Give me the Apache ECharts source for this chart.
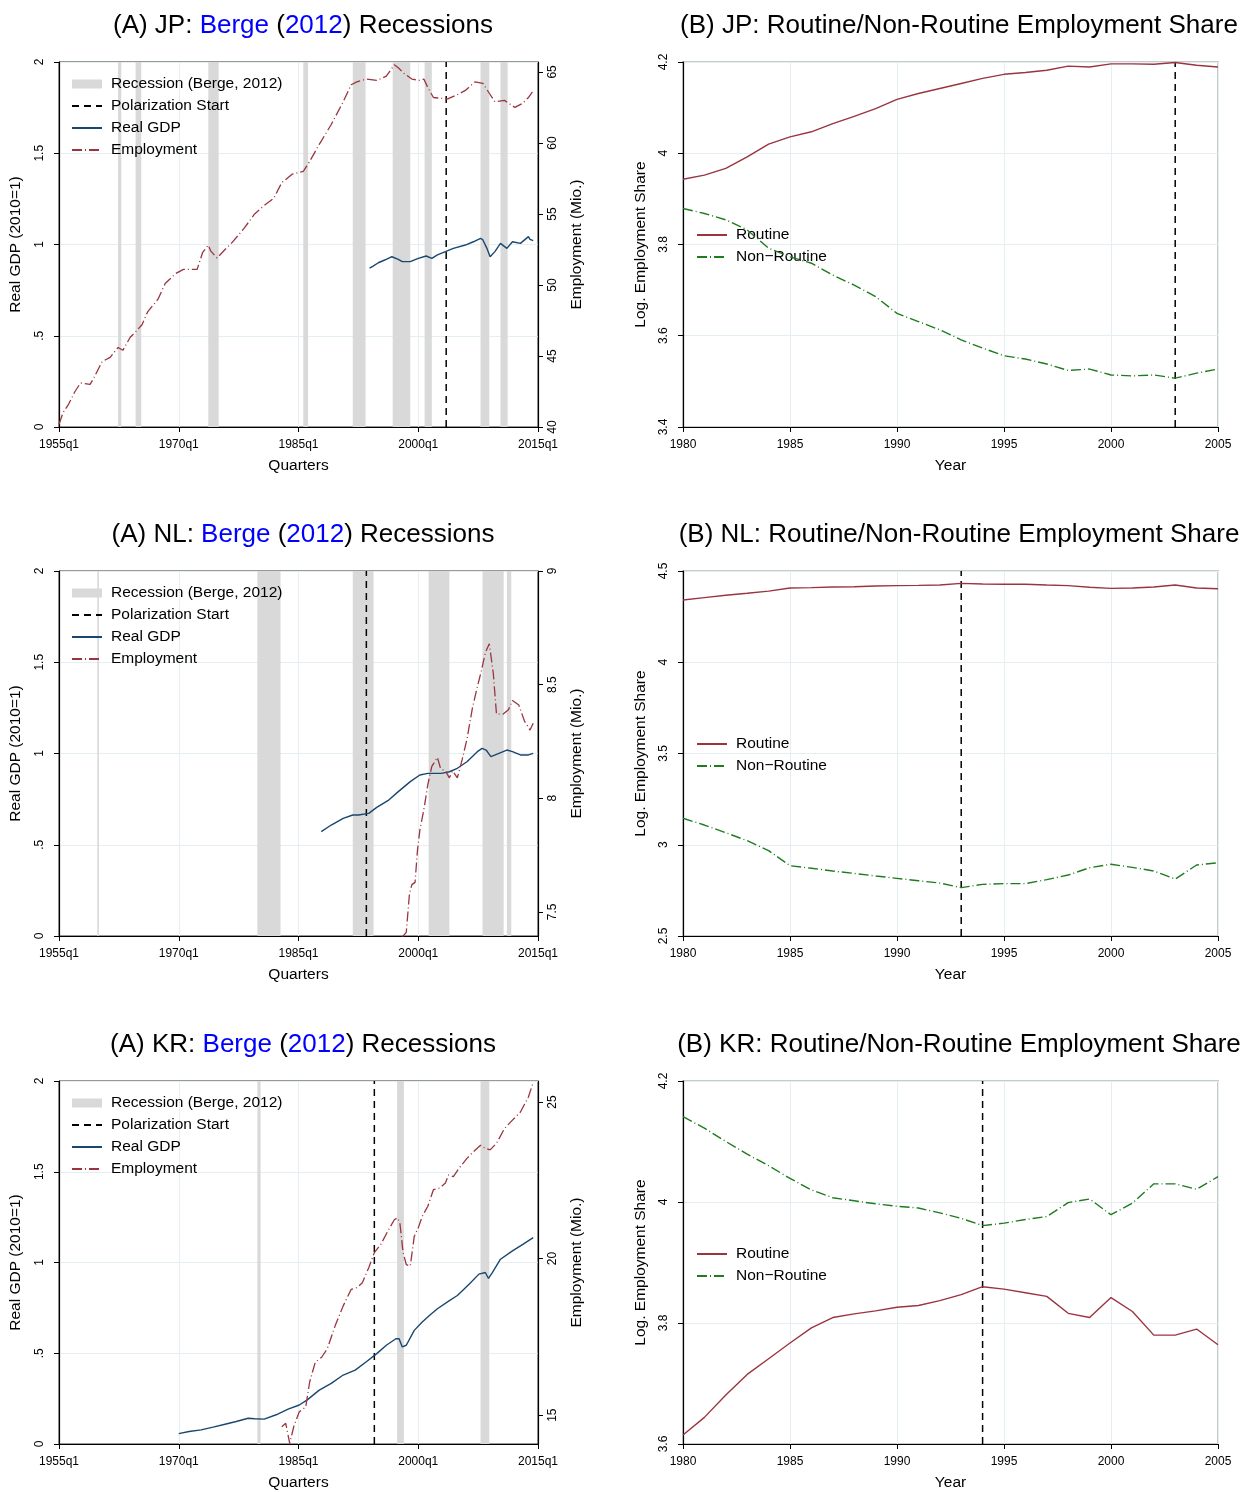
<!DOCTYPE html>
<html>
<head>
<meta charset="utf-8">
<script src="https://cdn.jsdelivr.net/npm/echarts@6/dist/echarts.min.js"></script>
<style>
html, body { margin: 0; padding: 0; background: #fff; }
#chart { width: 1242px; height: 1492px; }
</style>
</head>
<body>
<div id="chart"></div>
<script>
// ---- quarterly panels (A): [year, value] ----
var jpEmployment = [[1955.0,40.2],[1955.5,41.0],[1956.2,41.6],[1957.0,42.5],[1957.7,43.1],[1958.9,43.0],[1959.4,43.5],[1960.4,44.6],[1961.4,44.9],[1962.4,45.6],[1963.0,45.4],[1963.9,46.3],[1964.6,46.7],[1965.4,47.2],[1966.1,48.1],[1967.4,49.0],[1968.3,50.1],[1969.6,50.8],[1970.6,51.1],[1972.3,51.1],[1973.0,52.3],[1973.7,52.8],[1974.0,52.4],[1974.8,51.9],[1975.8,52.5],[1976.7,53.0],[1978.2,54.0],[1979.5,55.0],[1980.7,55.6],[1981.9,56.1],[1982.9,57.2],[1984.2,57.8],[1985.6,58.0],[1986.4,58.7],[1987.6,59.9],[1989.1,61.3],[1990.6,62.9],[1991.6,64.1],[1992.3,64.3],[1993.5,64.5],[1994.8,64.4],[1996.0,64.7],[1997.0,65.5],[1997.5,65.3],[1998.2,64.9],[1999.2,64.5],[2000.2,64.4],[2000.7,64.5],[2001.2,63.9],[2001.9,63.2],[2003.7,63.1],[2004.9,63.4],[2005.9,63.7],[2007.1,64.3],[2008.1,64.2],[2008.9,63.5],[2009.6,62.9],[2010.8,63.0],[2012.1,62.5],[2013.1,62.8],[2013.8,63.2],[2014.3,63.6]];
var jpGdp = [[1993.9,0.87],[1994.3,0.88],[1995.0,0.90],[1995.8,0.915],[1996.7,0.933],[1997.5,0.919],[1998.0,0.906],[1999.0,0.906],[2000.0,0.924],[2001.0,0.937],[2001.7,0.924],[2002.4,0.943],[2003.4,0.961],[2004.4,0.979],[2005.9,0.997],[2006.9,1.015],[2007.8,1.034],[2008.1,1.025],[2008.6,0.979],[2009.0,0.933],[2009.6,0.961],[2010.3,1.006],[2011.1,0.979],[2011.8,1.015],[2012.8,1.006],[2013.8,1.043],[2014.0,1.028],[2014.4,1.021]];
var jpRecessions = [[1962.4,1962.8],[1964.6,1965.3],[1973.7,1975.0],[1985.6,1986.2],[1991.8,1993.4],[1996.8,1999.0],[2000.8,2001.7],[2007.8,2008.9],[2010.3,2011.2]];
var jpPolarQuarter = 2003.5;

var nlGdp = [[1987.85,0.572],[1989.1,0.608],[1990.6,0.645],[1991.8,0.663],[1992.5,0.663],[1993.8,0.672],[1994.8,0.705],[1996.3,0.745],[1997.5,0.791],[1999.0,0.846],[2000.2,0.882],[2001.2,0.891],[2002.9,0.891],[2003.9,0.900],[2004.9,0.919],[2006.1,0.955],[2007.4,1.010],[2008.0,1.028],[2008.5,1.019],[2009.1,0.983],[2010.1,1.001],[2011.1,1.019],[2011.8,1.010],[2012.8,0.992],[2013.8,0.992],[2014.4,1.001]];
var nlEmployment = [[1998.0,7.39],[1998.5,7.41],[1998.9,7.58],[1999.2,7.62],[1999.6,7.63],[1999.9,7.77],[2000.2,7.86],[2000.7,7.95],[2001.2,8.06],[2001.7,8.14],[2002.4,8.18],[2002.8,8.13],[2003.4,8.12],[2003.9,8.09],[2004.3,8.12],[2004.9,8.09],[2005.5,8.17],[2006.1,8.26],[2006.8,8.40],[2007.4,8.49],[2007.9,8.56],[2008.4,8.64],[2008.9,8.68],[2009.4,8.55],[2009.8,8.37],[2010.6,8.37],[2011.3,8.39],[2011.8,8.43],[2012.6,8.41],[2013.3,8.34],[2014.0,8.30],[2014.4,8.33]];
var nlRecessions = [[1959.8,1960.0],[1979.85,1982.75],[1991.8,1994.4],[2001.3,2003.9],[2008.05,2010.7],[2011.1,2011.65]];
var nlPolarQuarter = 1993.5;

var krGdp = [[1970.0,0.057],[1971.3,0.069],[1972.8,0.078],[1974.3,0.093],[1975.8,0.109],[1977.2,0.124],[1978.7,0.142],[1979.5,0.139],[1980.7,0.137],[1982.2,0.161],[1983.7,0.192],[1985.1,0.215],[1986.1,0.243],[1987.6,0.297],[1989.1,0.334],[1990.6,0.380],[1992.1,0.407],[1993.5,0.453],[1994.8,0.498],[1996.0,0.544],[1997.2,0.580],[1997.6,0.580],[1998.0,0.535],[1998.5,0.544],[1999.5,0.626],[2000.5,0.672],[2001.4,0.708],[2002.4,0.745],[2003.9,0.790],[2004.9,0.818],[2006.4,0.881],[2007.6,0.936],[2008.4,0.945],[2008.8,0.912],[2009.3,0.945],[2010.3,1.018],[2011.8,1.064],[2013.1,1.100],[2014.4,1.137]];
var krEmployment = [[1982.9,14.63],[1983.4,14.74],[1983.9,14.10],[1984.4,14.63],[1985.1,15.11],[1985.9,15.26],[1986.4,16.06],[1987.1,16.69],[1987.9,16.85],[1988.6,17.12],[1989.6,17.86],[1990.6,18.49],[1991.6,19.02],[1992.3,19.07],[1993.0,19.23],[1993.8,19.71],[1994.5,20.19],[1995.3,20.45],[1996.3,20.93],[1997.0,21.24],[1997.4,21.30],[1997.7,21.14],[1998.1,20.19],[1998.5,19.81],[1999.0,19.76],[1999.5,20.71],[2000.0,20.98],[2000.5,21.35],[2001.2,21.67],[2001.9,22.20],[2002.7,22.25],[2003.4,22.41],[2003.8,22.67],[2004.4,22.62],[2005.1,22.88],[2006.1,23.20],[2006.9,23.41],[2007.8,23.62],[2008.4,23.52],[2009.0,23.47],[2009.8,23.68],[2010.8,24.15],[2011.8,24.42],[2012.8,24.68],[2013.8,25.16],[2014.4,25.63]];
var krRecessions = [[1979.85,1980.25],[1997.35,1998.2],[2007.8,2008.9]];
var krPolarQuarter = 1994.5;

var quarterTicks = [1955, 1970, 1985, 2000, 2015];
var jpEmpTicks = [40, 45, 50, 55, 60, 65];
var nlEmpTicks = [7.5, 8, 8.5, 9];
var krEmpTicks = [15, 20, 25];

// ---- yearly panels (B) ----
var years = [1980,1981,1982,1983,1984,1985,1986,1987,1988,1989,1990,1991,1992,1993,1994,1995,1996,1997,1998,1999,2000,2001,2002,2003,2004,2005];
var jpRoutine = [3.943,3.952,3.967,3.992,4.020,4.036,4.047,4.065,4.081,4.098,4.118,4.131,4.142,4.153,4.164,4.173,4.177,4.182,4.191,4.189,4.196,4.196,4.195,4.199,4.193,4.189];
var jpNonRoutine = [3.879,3.868,3.854,3.832,3.792,3.773,3.759,3.733,3.711,3.686,3.649,3.631,3.613,3.591,3.573,3.556,3.549,3.538,3.524,3.527,3.514,3.512,3.514,3.507,3.518,3.527];
var nlRoutine = [4.341,4.354,4.367,4.378,4.390,4.407,4.409,4.412,4.414,4.418,4.420,4.421,4.423,4.432,4.429,4.427,4.427,4.423,4.420,4.411,4.405,4.407,4.412,4.423,4.407,4.403];
var nlNonRoutine = [3.145,3.108,3.066,3.022,2.968,2.885,2.871,2.856,2.843,2.829,2.816,2.803,2.790,2.765,2.783,2.787,2.787,2.809,2.834,2.874,2.893,2.876,2.856,2.812,2.889,2.901];
var krRoutine = [3.615,3.644,3.681,3.715,3.741,3.767,3.792,3.809,3.815,3.820,3.826,3.829,3.837,3.847,3.860,3.856,3.850,3.844,3.816,3.809,3.842,3.819,3.780,3.780,3.790,3.764];
var krNonRoutine = [4.141,4.122,4.100,4.079,4.060,4.039,4.020,4.007,4.002,3.997,3.993,3.990,3.982,3.973,3.961,3.965,3.971,3.976,3.999,4.005,3.979,3.998,4.030,4.030,4.021,4.042];
var jpPolarYear = 2003, nlPolarYear = 1993, krPolarYear = 1994;

var FONT = '"Liberation Sans", Arial, Helvetica, sans-serif';
var RED = '#9a3540', NAVY = '#1a476f', GREEN = '#1e7b1e', BAND = '#d9d9d9', GRIDC = '#e5eef0';
var EMP_DASH = [10, 3, 1, 3], POL_DASH = [7, 5];

var chart = echarts.init(document.getElementById('chart'));

var rowTops = [62, 571, 1081];
var PH = 365;
var grids = [], xAxes = [], yAxes = [], series = [], legends = [], titles = [];

function tickLabelStyle() {
    return { color: '#000', fontSize: 12, fontFamily: FONT };
}

function pair(xs, ys) {
    return xs.map(function (x, i) { return [x, ys[i]]; });
}

// legend entry for a line series: hide the marker, keep the dashed line
function lineEntry(name) {
    return { name: name, itemStyle: { opacity: 0 } };
}

var legendText = { color: '#000', fontSize: 15.5, fontFamily: FONT, lineHeight: 16, padding: [0, 0, 0, 4] };

function addPanelA(row, code, gdp, emp, recessions, polar, empMin, empMax, empTicks) {
    var top = rowTops[row];
    var gi = grids.length;
    grids.push({ left: 59, top: top, width: 479, height: PH, show: true, borderColor: '#333', borderWidth: 1, backgroundColor: 'transparent' });
    var xi = xAxes.length;
    xAxes.push({
        type: 'value', gridIndex: gi, min: 1955, max: 2015,
        name: 'Quarters', nameLocation: 'middle', nameGap: 31,
        nameTextStyle: { color: '#000', fontSize: 15.5, fontFamily: FONT },
        axisLine: { lineStyle: { color: '#000', width: 1.2 } },
        axisTick: { show: true, length: 5, lineStyle: { color: '#000' }, customValues: quarterTicks },
        axisLabel: Object.assign(tickLabelStyle(), { margin: 12, customValues: quarterTicks, formatter: function (v) { return v + 'q1'; } }),
        splitLine: { show: true, lineStyle: { color: GRIDC, width: 1 } }
    });
    var yl = yAxes.length;
    yAxes.push({
        type: 'value', gridIndex: gi, min: 0, max: 2, interval: 0.5, position: 'left',
        name: 'Real GDP (2010=1)', nameLocation: 'middle', nameGap: 35,
        nameTextStyle: { color: '#000', fontSize: 15.5, fontFamily: FONT },
        axisLine: { show: true, lineStyle: { color: '#000', width: 1.2 } },
        axisTick: { show: true, length: 5, lineStyle: { color: '#000' } },
        axisLabel: Object.assign(tickLabelStyle(), { rotate: 90, margin: 13, formatter: function (v) { return v === 0.5 ? '.5' : String(v); } }),
        splitLine: { show: true, lineStyle: { color: GRIDC, width: 1 } }
    });
    var yr = yAxes.length;
    yAxes.push({
        type: 'value', gridIndex: gi, min: empMin, max: empMax, position: 'right',
        name: 'Employment (Mio.)', nameLocation: 'middle', nameGap: 31,
        nameTextStyle: { color: '#000', fontSize: 15.5, fontFamily: FONT },
        axisLine: { show: true, lineStyle: { color: '#000', width: 1.2 } },
        axisTick: { show: true, length: 5, lineStyle: { color: '#000' }, customValues: empTicks },
        axisLabel: Object.assign(tickLabelStyle(), { rotate: 90, margin: 9, customValues: empTicks }),
        splitLine: { show: false }
    });
    series.push({
        name: 'Recession (Berge, 2012)', type: 'custom', xAxisIndex: xi, yAxisIndex: yl,
        data: recessions, encode: { x: [0, 1] }, itemStyle: { color: BAND }, z: 1, silent: true,
        renderItem: function (params, api) {
            var a = api.coord([api.value(0), 2]);
            var b = api.coord([api.value(1), 0]);
            return { type: 'rect', shape: { x: a[0], y: a[1], width: Math.max(b[0] - a[0], 1.5), height: b[1] - a[1] }, style: { fill: BAND } };
        }
    });
    series.push({
        name: 'Polarization Start', type: 'line', xAxisIndex: xi, yAxisIndex: yl,
        data: [[polar, 0], [polar, 2]], symbol: 'none', z: 3,
        lineStyle: { color: '#000', width: 1.5, type: POL_DASH }, itemStyle: { color: '#000' }
    });
    series.push({
        name: 'Real GDP', type: 'line', xAxisIndex: xi, yAxisIndex: yl,
        data: gdp, symbol: 'none', z: 4,
        lineStyle: { color: NAVY, width: 1.4 }, itemStyle: { color: NAVY }
    });
    series.push({
        name: 'Employment', type: 'line', xAxisIndex: xi, yAxisIndex: yr,
        data: emp, symbol: 'none', z: 4,
        lineStyle: { color: RED, width: 1.3, type: EMP_DASH }, itemStyle: { color: RED }
    });
    legends.push({
        left: 71, top: top + 14, orient: 'vertical', itemWidth: 30, itemHeight: 9, itemGap: 6, padding: 0,
        selectedMode: false,
        textStyle: legendText,
        data: [{ name: 'Recession (Berge, 2012)', icon: 'rect', itemStyle: { color: BAND, opacity: 1 } },
            lineEntry('Polarization Start'), lineEntry('Real GDP'), lineEntry('Employment')]
    });
    titles.push({
        left: 298, top: top - 54, textAlign: 'center',
        text: '{k|(A) ' + code + ': }{b|Berge}{k| (}{b|2012}{k|) Recessions}',
        textStyle: {
            fontWeight: 'normal', fontSize: 26, fontFamily: FONT,
            rich: {
                k: { color: '#000', fontSize: 26, fontWeight: 'normal', fontFamily: FONT },
                b: { color: '#0000ff', fontSize: 26, fontWeight: 'normal', fontFamily: FONT }
            }
        }
    });
}

function addPanelB(row, code, routine, nonRoutine, polar, yMin, yMax, yStep, legendTop) {
    var top = rowTops[row];
    var gi = grids.length;
    grids.push({ left: 683, top: top, width: 535, height: PH, show: true, borderColor: '#c6cbcb', borderWidth: 2, backgroundColor: 'transparent' });
    var xi = xAxes.length;
    xAxes.push({
        type: 'value', gridIndex: gi, min: 1980, max: 2005, interval: 5,
        name: 'Year', nameLocation: 'middle', nameGap: 31,
        nameTextStyle: { color: '#000', fontSize: 15.5, fontFamily: FONT },
        axisLine: { lineStyle: { color: '#000', width: 1.2 } },
        axisTick: { show: true, length: 5, lineStyle: { color: '#000' } },
        axisLabel: Object.assign(tickLabelStyle(), { margin: 12, formatter: function (v) { return String(v); } }),
        splitLine: { show: true, lineStyle: { color: GRIDC, width: 1 } }
    });
    var yi = yAxes.length;
    yAxes.push({
        type: 'value', gridIndex: gi, min: yMin, max: yMax, interval: yStep, position: 'left',
        name: 'Log. Employment Share', nameLocation: 'middle', nameGap: 34,
        nameTextStyle: { color: '#000', fontSize: 15.5, fontFamily: FONT },
        axisLine: { show: true, lineStyle: { color: '#000', width: 1.2 } },
        axisTick: { show: true, length: 5, lineStyle: { color: '#000' } },
        axisLabel: Object.assign(tickLabelStyle(), { rotate: 90, margin: 13, formatter: function (v) { return String(Math.round(v * 10) / 10); } }),
        splitLine: { show: true, lineStyle: { color: GRIDC, width: 1 } }
    });
    series.push({
        name: 'Routine', type: 'line', xAxisIndex: xi, yAxisIndex: yi,
        data: pair(years, routine), symbol: 'none', z: 4,
        lineStyle: { color: RED, width: 1.4 }, itemStyle: { color: RED }
    });
    series.push({
        name: 'Non\u2212Routine', type: 'line', xAxisIndex: xi, yAxisIndex: yi,
        data: pair(years, nonRoutine), symbol: 'none', z: 4,
        lineStyle: { color: GREEN, width: 1.4, type: EMP_DASH }, itemStyle: { color: GREEN }
    });
    series.push({
        name: 'Polarization Start', type: 'line', xAxisIndex: xi, yAxisIndex: yi,
        data: [[polar, yMin], [polar, yMax]], symbol: 'none', z: 3,
        lineStyle: { color: '#000', width: 1.5, type: POL_DASH }, itemStyle: { color: '#000' }
    });
    legends.push({
        left: 696, top: legendTop + 2, orient: 'vertical', itemWidth: 30, itemHeight: 9, itemGap: 6, padding: 0,
        selectedMode: false,
        textStyle: legendText,
        data: [lineEntry('Routine'), lineEntry('Non\u2212Routine')]
    });
    titles.push({
        left: 954, top: top - 54, textAlign: 'center',
        text: '(B) ' + code + ': Routine/Non-Routine Employment Share',
        textStyle: { color: '#000', fontSize: 26, fontWeight: 'normal', fontFamily: FONT }
    });
}

addPanelA(0, 'JP', jpGdp, jpEmployment, jpRecessions, jpPolarQuarter, 40, 65.7, jpEmpTicks);
addPanelB(0, 'JP', jpRoutine, jpNonRoutine, jpPolarYear, 3.4, 4.2, 0.2, 225);
addPanelA(1, 'NL', nlGdp, nlEmployment, nlRecessions, nlPolarQuarter, 7.394, 9, nlEmpTicks);
addPanelB(1, 'NL', nlRoutine, nlNonRoutine, nlPolarYear, 2.5, 4.5, 0.5, 734);
addPanelA(2, 'KR', krGdp, krEmployment, krRecessions, krPolarQuarter, 14.08, 25.67, krEmpTicks);
addPanelB(2, 'KR', krRoutine, krNonRoutine, krPolarYear, 3.6, 4.2, 0.2, 1244);

chart.setOption({
    backgroundColor: '#fff',
    animation: false,
    textStyle: { fontFamily: FONT },
    title: titles,
    legend: legends,
    grid: grids,
    xAxis: xAxes,
    yAxis: yAxes,
    series: series
});
</script>
</body>
</html>
